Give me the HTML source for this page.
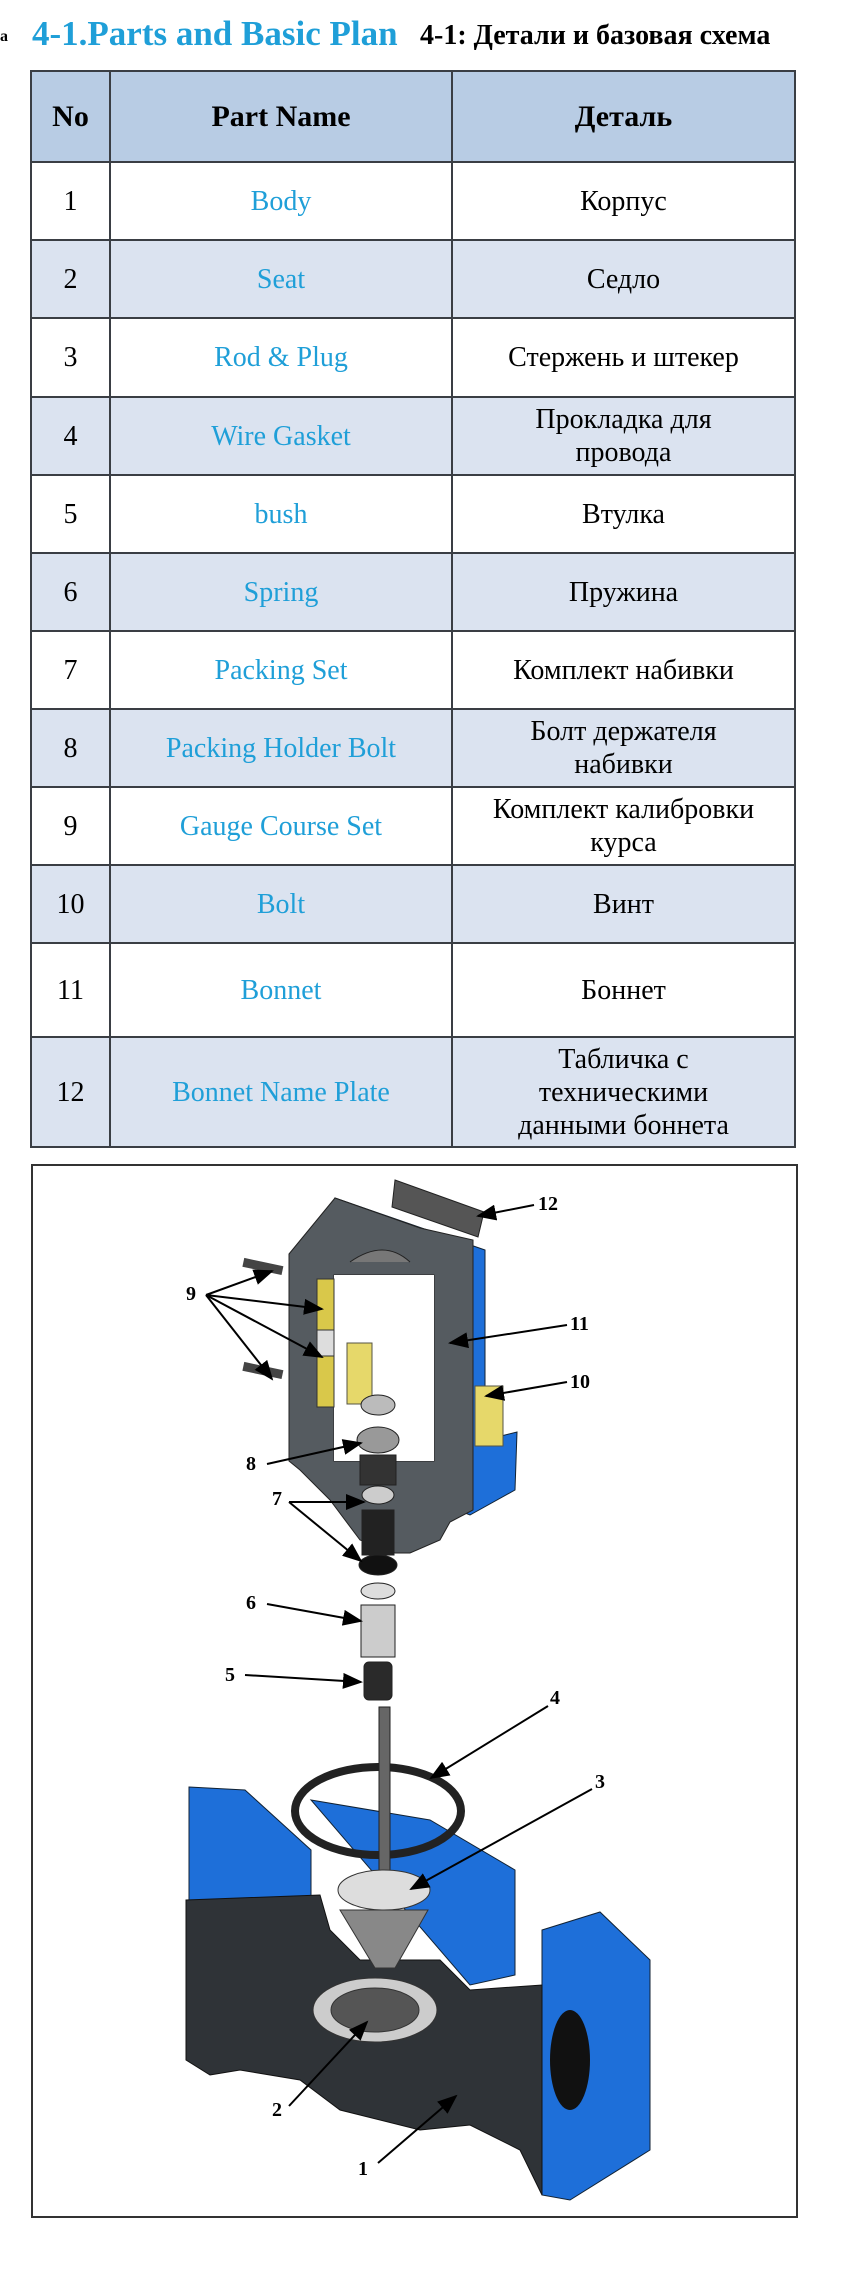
<!DOCTYPE html>
<html><head><meta charset="utf-8"><style>
body{margin:0;background:#fff;width:861px;height:2281px;position:relative;overflow:hidden;font-family:"Liberation Serif",serif}
.t1{position:absolute;left:32px;top:14px;font-size:35px;font-weight:bold;color:#1f9fd8;white-space:nowrap}
.t2{position:absolute;left:420px;top:20px;font-size:28px;font-weight:bold;color:#000;white-space:nowrap}
.dot{position:absolute;left:0;top:28px;font-size:16px;font-weight:bold}
table{position:absolute;left:30px;top:70px;width:766px;border-collapse:collapse}
td{border:2px solid #3a3e44;text-align:center;font-size:28px;line-height:33px;padding:0 4px}
td.b{color:#1f9fd8}
tr.s td{background:#dbe3f0}
tr.h td{background:#b8cce4;font-weight:bold;font-size:30px}
.box{position:absolute;left:31px;top:1164px;width:767px;height:1054px;border:2px solid #333;box-sizing:border-box}
svg{position:absolute;left:0;top:0}
</style></head><body>
<div class="dot">a</div>
<div class="t1">4-1.Parts and Basic Plan</div>
<div class="t2">4-1: Детали и базовая схема</div>
<table>
<colgroup><col style="width:79px"><col style="width:342px"><col></colgroup>
<tr class="h" style="height:91px"><td>No</td><td>Part Name</td><td>Деталь</td></tr>
<tr style="height:78px"><td>1</td><td class="b">Body</td><td>Корпус</td></tr>
<tr class="s" style="height:78px"><td>2</td><td class="b">Seat</td><td>Седло</td></tr>
<tr style="height:79px"><td>3</td><td class="b">Rod &amp; Plug</td><td>Стержень и штекер</td></tr>
<tr class="s" style="height:78px"><td>4</td><td class="b">Wire Gasket</td><td>Прокладка для<br>провода</td></tr>
<tr style="height:78px"><td>5</td><td class="b">bush</td><td>Втулка</td></tr>
<tr class="s" style="height:78px"><td>6</td><td class="b">Spring</td><td>Пружина</td></tr>
<tr style="height:78px"><td>7</td><td class="b">Packing Set</td><td>Комплект набивки</td></tr>
<tr class="s" style="height:78px"><td>8</td><td class="b">Packing Holder Bolt</td><td>Болт держателя<br>набивки</td></tr>
<tr style="height:78px"><td>9</td><td class="b">Gauge Course Set</td><td>Комплект калибровки<br>курса</td></tr>
<tr class="s" style="height:78px"><td>10</td><td class="b">Bolt</td><td>Винт</td></tr>
<tr style="height:94px"><td>11</td><td class="b">Bonnet</td><td>Боннет</td></tr>
<tr class="s" style="height:110px"><td>12</td><td class="b">Bonnet Name Plate</td><td>Табличка с<br>техническими<br>данными боннета</td></tr>
</table>
<div class="box"></div>
<svg width="861" height="2281" viewBox="0 0 861 2281">
<defs><marker id="a" markerWidth="10" markerHeight="8" refX="9" refY="4" orient="auto"><path d="M0,0L10,4L0,8z" fill="#000"/></marker></defs>
<polygon points="395,1180 484,1212 478,1237 392,1207" fill="#555" stroke="#222"/>
<polygon points="335,1198 485,1250 485,1440 517,1432 515,1490 470,1515 380,1480 380,1300 335,1260" fill="#1e6fd9" stroke="#123"/>
<path d="M289,1254 L335,1198 L420,1228 L473,1240 L473,1510 L450,1522 L440,1540 L410,1553 L395,1553 L360,1540 L330,1500 L300,1470 L289,1461 Z M334,1275 L334,1461 L434,1461 L434,1275 Z" fill="#555b60" fill-rule="evenodd" stroke="#222"/>
<rect x="334" y="1275" width="100" height="186" fill="#fff"/>
<path d="M350,1262 Q384,1238 410,1262" fill="#777" stroke="#222"/>
<rect x="317" y="1279" width="17" height="128" fill="#d9c84a" stroke="#333"/>
<rect x="317" y="1330" width="17" height="26" fill="#ddd" stroke="#333"/>
<rect x="243" y="1262" width="40" height="9" fill="#444" transform="rotate(12 263 1266)"/>
<rect x="243" y="1366" width="40" height="9" fill="#444" transform="rotate(12 263 1370)"/>
<rect x="347" y="1343" width="25" height="61" fill="#e6d86a" stroke="#554"/>
<rect x="475" y="1386" width="28" height="60" fill="#e6d86a" stroke="#554"/>
<g stroke="#222">
<ellipse cx="378" cy="1405" rx="17" ry="10" fill="#bbb"/>
<ellipse cx="378" cy="1440" rx="21" ry="13" fill="#999"/>
<rect x="360" y="1455" width="36" height="30" fill="#333"/>
<ellipse cx="378" cy="1495" rx="16" ry="9" fill="#ccc"/>
<rect x="362" y="1510" width="32" height="45" fill="#222"/>
<ellipse cx="378" cy="1565" rx="19" ry="10" fill="#111"/>
<ellipse cx="378" cy="1591" rx="17" ry="8" fill="#ddd"/>
<rect x="361" y="1605" width="34" height="52" fill="#ccc"/>
<rect x="364" y="1662" width="28" height="38" rx="5" fill="#2a2a2a"/>
</g>
<polygon points="189,1787 245,1790 311,1850 311,1900 189,1910" fill="#1e6fd9" stroke="#123"/>
<polygon points="311,1800 430,1820 515,1870 515,1975 470,1985" fill="#1e6fd9" stroke="#123"/>
<polygon points="542,1930 600,1912 650,1960 650,2150 570,2200 542,2195" fill="#1e6fd9" stroke="#123"/>
<path d="M186,1900 L320,1895 L330,1930 L360,1960 L440,1960 L470,1990 L542,1985 L542,2195 L520,2150 L470,2125 L420,2130 L340,2110 L300,2080 L240,2070 L210,2075 L186,2060 Z" fill="#2f3337" stroke="#111"/>
<ellipse cx="570" cy="2060" rx="20" ry="50" fill="#111"/>
<ellipse cx="378" cy="1811" rx="83" ry="44" fill="none" stroke="#222" stroke-width="8"/>
<rect x="379" y="1707" width="11" height="193" fill="#666" stroke="#222"/>
<ellipse cx="384" cy="1890" rx="46" ry="20" fill="#ddd" stroke="#333"/>
<polygon points="340,1910 428,1910 395,1968 375,1968" fill="#888" stroke="#333"/>
<ellipse cx="375" cy="2010" rx="62" ry="32" fill="#ccc" stroke="#333"/>
<ellipse cx="375" cy="2010" rx="44" ry="22" fill="#555" stroke="#333"/>
<g stroke="#000" stroke-width="2" fill="none" marker-end="url(#a)">
<line x1="534" y1="1205" x2="478" y2="1216"/>
<line x1="567" y1="1325" x2="450" y2="1343"/>
<line x1="567" y1="1382" x2="486" y2="1396"/>
<line x1="206" y1="1295" x2="272" y2="1271"/>
<line x1="206" y1="1295" x2="322" y2="1309"/>
<line x1="206" y1="1295" x2="322" y2="1357"/>
<line x1="206" y1="1295" x2="272" y2="1379"/>
<line x1="267" y1="1464" x2="361" y2="1443"/>
<line x1="289" y1="1502" x2="364" y2="1502"/>
<line x1="289" y1="1502" x2="361" y2="1561"/>
<line x1="267" y1="1604" x2="361" y2="1621"/>
<line x1="245" y1="1675" x2="361" y2="1682"/>
<line x1="548" y1="1706" x2="431" y2="1778"/>
<line x1="592" y1="1789" x2="411" y2="1889"/>
<line x1="289" y1="2106" x2="367" y2="2022"/>
<line x1="378" y1="2163" x2="456" y2="2096"/>
</g>
<g font-family="Liberation Serif, serif" font-size="20" font-weight="bold" fill="#000">
<text x="538" y="1210">12</text><text x="570" y="1330">11</text><text x="570" y="1388">10</text>
<text x="186" y="1300">9</text><text x="246" y="1470">8</text><text x="272" y="1505">7</text>
<text x="246" y="1609">6</text><text x="225" y="1681">5</text><text x="550" y="1704">4</text>
<text x="595" y="1788">3</text><text x="272" y="2116">2</text><text x="358" y="2175">1</text>
</g>
</svg>
</body></html>
